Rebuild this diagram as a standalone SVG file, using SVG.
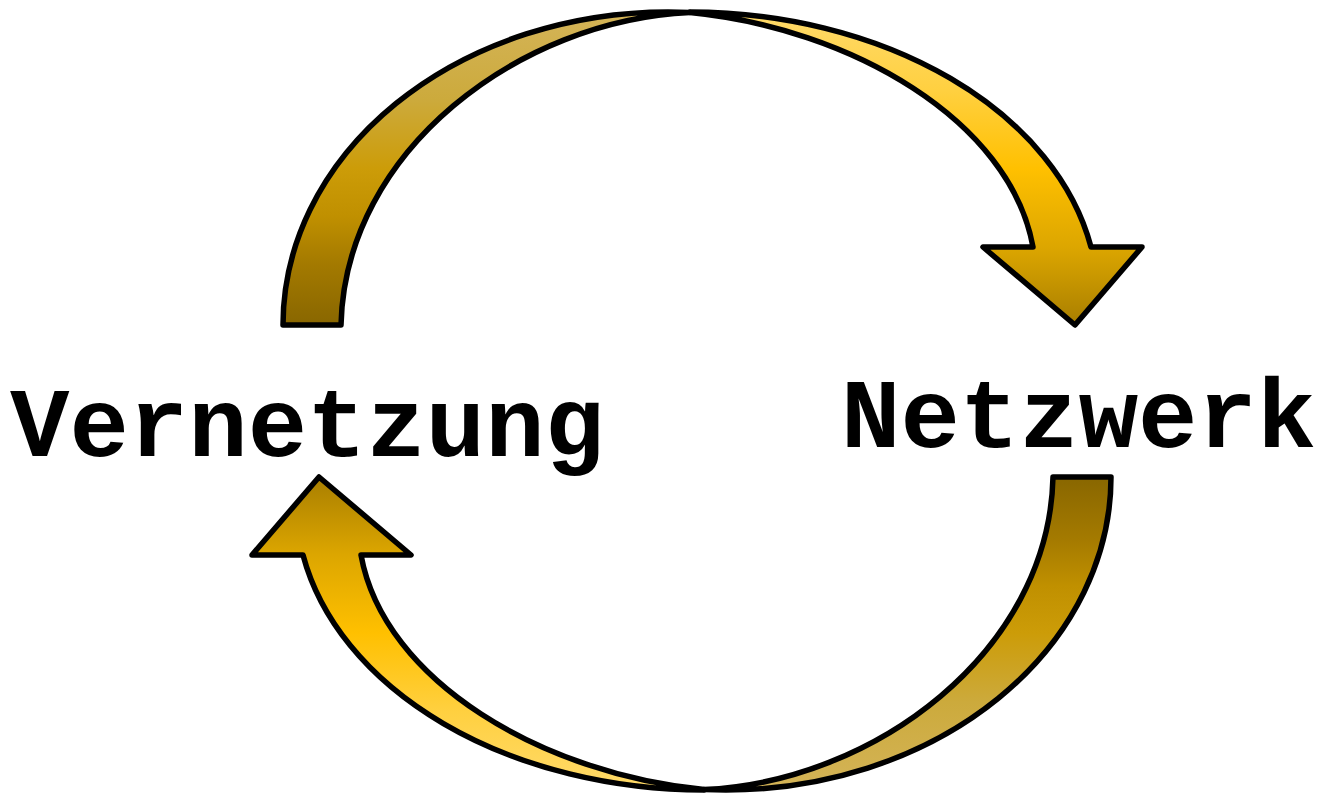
<svg xmlns="http://www.w3.org/2000/svg" xmlns:xlink="http://www.w3.org/1999/xlink" width="1321" height="794" viewBox="0 0 1321 794">
<style>
.outline{stroke:#000;stroke-width:5.5;stroke-linejoin:round}
.label{font-family:"Courier New","Nimbus Mono PS","Nimbus Mono L","FreeMono","Liberation Mono",monospace;font-weight:bold;font-size:99px;fill:#000}
</style>
<defs>
<linearGradient id="gBright" gradientUnits="userSpaceOnUse" x1="0" y1="12" x2="0" y2="326">
<stop offset="0" stop-color="#ffda6a"/>
<stop offset="0.25" stop-color="#ffd040"/>
<stop offset="0.5" stop-color="#ffc000"/>
<stop offset="0.75" stop-color="#dca600"/>
<stop offset="1" stop-color="#a87e00"/>
</linearGradient>
<linearGradient id="gDark" gradientUnits="userSpaceOnUse" x1="0" y1="12" x2="0" y2="326">
<stop offset="0" stop-color="#d4b458"/>
<stop offset="0.28" stop-color="#ccaa3c"/>
<stop offset="0.5" stop-color="#cc9c08"/>
<stop offset="0.65" stop-color="#c09000"/>
<stop offset="0.8" stop-color="#a47a00"/>
<stop offset="1" stop-color="#886600"/>
</linearGradient>
<g id="arrowShape">
<path class="outline" fill="url(#gDark)" d="M283,325 A385,313 0 0 1 668,12 L690,12.5 C520,20 345,150 341,325 Z"/>
<path class="outline" fill="url(#gBright)" d="M690,12 A408,288 0 0 1 1091,247 L1142,247 L1075,325 L983,247 L1033,247 C1010,120 850,28 690,12.5 Z"/>
</g>
</defs>
<g id="connectors">
<use id="arrow-top" xlink:href="#arrowShape" href="#arrowShape"/>
<use id="arrow-bottom" xlink:href="#arrowShape" href="#arrowShape" transform="rotate(180 697 401)"/>
</g>
<g id="node-vernetzung">
<text class="label" x="10" y="456">Vernetzung</text>
</g>
<g id="node-netzwerk">
<text class="label" x="841" y="447">Netzwerk</text>
</g>
</svg>
